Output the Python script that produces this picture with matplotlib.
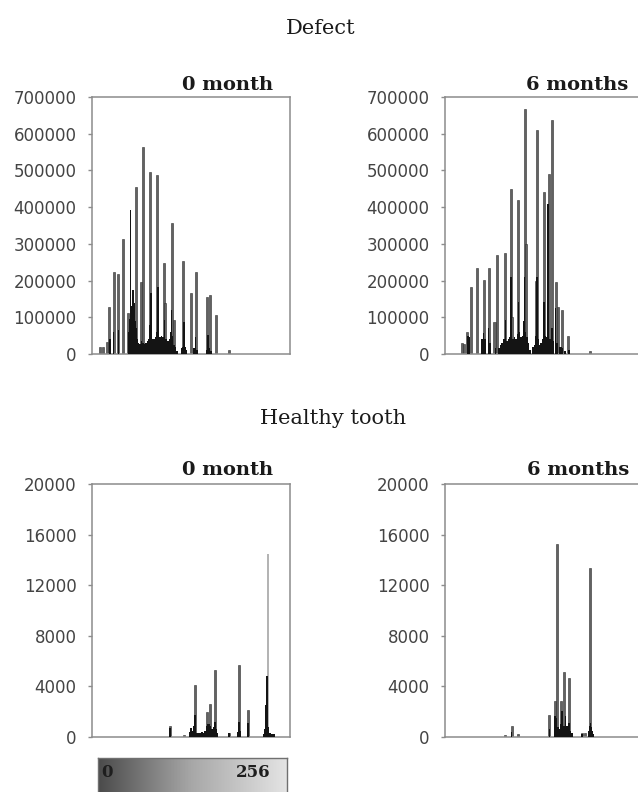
import numpy as np
import matplotlib
matplotlib.use('Agg')
import matplotlib.pyplot as plt
from matplotlib.colors import LinearSegmentedColormap

# ---------------- data (intensity bin 0..255 -> pixel count) ----------------
# Defect, 0 month
d0_gray_bins = [10, 14, 20, 22, 28, 34, 40, 47, 57, 64, 66, 75, 84, 93, 95, 103, 106, 118, 128, 134, 149, 153, 160, 177]
d0_gray_vals = [20000, 20000, 33000, 129000, 222000, 217000, 312000, 111000, 456000, 197000, 563000, 495000,
                488000, 249000, 138000, 356000, 92000, 254000, 165000, 222000, 156000, 161000, 106000, 10000]
d0_black_bins = [23, 28, 34, 47, 48, 49, 50, 51, 52, 53, 54, 55, 56, 57, 58, 59, 60, 62, 64, 66, 68, 70, 72, 74,
                 75, 76, 77, 78, 80, 82, 84, 85, 86, 88, 90, 92, 94, 96, 98, 100, 102, 103, 104, 106, 108, 110,
                 116, 118, 119, 120, 122, 132, 134, 136, 148, 150, 152, 154]
d0_black_vals = [40000, 60000, 65000, 30000, 60000, 95000, 392000, 110000, 130000, 175000, 140000, 100000, 90000,
                 70000, 40000, 35000, 30000, 28000, 35000, 30000, 28000, 30000, 35000, 40000, 80000, 166000, 70000,
                 40000, 40000, 45000, 60000, 183000, 60000, 45000, 50000, 45000, 92000, 40000, 36000, 40000, 60000,
                 120000, 50000, 25000, 18000, 8000, 15000, 20000, 88000, 20000, 10000, 15000, 45000, 12000, 12000,
                 52000, 15000, 8000]

# Defect, 6 months
d6_gray_bins = [22, 25, 28, 34, 42, 51, 57, 64, 67, 78, 85, 87, 95, 103, 105, 118, 119, 128, 134, 138, 143, 146,
                151, 159, 188]
d6_gray_vals = [29000, 27000, 60000, 183000, 235000, 202000, 235000, 86000, 271000, 276000, 449000, 101000,
                419000, 668000, 300000, 200000, 610000, 440000, 490000, 637000, 196000, 128000, 121000, 49000, 9000]
d6_black_bins = [30, 31, 48, 50, 52, 56, 58, 65, 70, 72, 74, 76, 78, 80, 82, 84, 85, 86, 88, 90, 92, 94, 95, 96,
                 98, 100, 102, 103, 104, 106, 108, 110, 114, 116, 118, 119, 120, 122, 124, 126, 128, 130, 132,
                 133, 134, 136, 138, 140, 143, 145, 148, 150, 152, 155, 160]
d6_black_vals = [50000, 47000, 40000, 56000, 40000, 70000, 30000, 15000, 15000, 25000, 30000, 40000, 92000, 35000,
                 40000, 45000, 210000, 60000, 40000, 45000, 40000, 55000, 142000, 60000, 45000, 50000, 90000,
                 210000, 60000, 45000, 30000, 10000, 20000, 25000, 49000, 210000, 40000, 25000, 30000, 40000,
                 142000, 50000, 45000, 408000, 100000, 40000, 70000, 35000, 124000, 30000, 20000, 20000, 15000,
                 8000, 10000]

# Healthy tooth, 0 month
h0_gray_bins = [101, 119, 133, 149, 152, 159, 177, 190, 202]
h0_gray_vals = [845, 130, 4150, 1980, 2590, 5280, 320, 5680, 2130]
h0_light_bins = [227]
h0_light_vals = [14480]
h0_black_bins = [101, 127, 128, 130, 132, 133, 134, 136, 138, 140, 142, 144, 146, 148, 150, 152, 153, 155, 157,
                 159, 160, 162, 177, 189, 190, 191, 201, 202, 222, 224, 225, 226, 227, 228, 230, 232, 234, 236]
h0_black_vals = [700, 400, 700, 500, 900, 1700, 800, 350, 300, 350, 400, 350, 500, 900, 1000, 1050, 900, 600,
                 800, 1190, 600, 300, 300, 400, 1190, 500, 900, 1100, 250, 600, 2500, 4810, 2510, 800, 300, 250,
                 250, 200]

# Healthy tooth, 6 months
h6_gray_bins = [78, 86, 95, 135, 142, 145, 150, 154, 160, 177, 181, 188]
h6_gray_vals = [185, 845, 200, 1717, 2830, 15245, 2830, 5125, 4680, 317, 300, 13340]
h6_black_bins = [86, 135, 142, 144, 146, 148, 150, 151, 152, 154, 156, 158, 160, 162, 164, 177, 186, 187, 188,
                 189, 190, 192]
h6_black_vals = [400, 600, 1640, 1500, 800, 600, 1000, 2030, 1200, 900, 1640, 900, 1100, 500, 300, 250, 500, 900,
                 1110, 800, 500, 250]

defect_ticks = [0, 100000, 200000, 300000, 400000, 500000, 600000, 700000]
healthy_ticks = [0, 4000, 8000, 12000, 16000, 20000]
scale_labels = ['0', '256']

# ---------------- figure ----------------
W, H = 638, 792
fig = plt.figure(figsize=(W / 100, H / 100), dpi=100)
fig.patch.set_facecolor('white')

SPINE = '#8c8c8c'


def panel(px_left, px_top, px_bottom, gray_b, gray_v, black_b, black_v, ticks,
          light_b=None, light_v=None):
    ax = fig.add_axes([px_left / W, 1 - px_bottom / H, 198 / W, (px_bottom - px_top) / H])
    ax.bar(gray_b, gray_v, width=2.6, color='#626262', edgecolor='#2e2e2e', linewidth=0.4, zorder=2)
    if light_b:
        ax.bar(light_b, light_v, width=2.6, color='#b4b4b4', linewidth=0, zorder=2)
    ax.bar(black_b, black_v, width=2.0, color='#141414', linewidth=0, zorder=3)
    ax.set_xlim(0, 256)
    ax.set_ylim(0, ticks[-1])
    ax.set_xticks([])
    ax.set_yticks(ticks)
    ax.set_yticklabels([str(t) for t in ticks], fontfamily='DejaVu Sans')
    for s in ax.spines.values():
        s.set_color(SPINE)
        s.set_linewidth(1.1)
    ax.tick_params(axis='y', direction='out', length=3, width=1, color=SPINE, pad=8,
                   labelsize=12, labelcolor='#444444')
    return ax


panel(92, 97, 354, d0_gray_bins, d0_gray_vals, d0_black_bins, d0_black_vals, defect_ticks)
panel(445, 97, 354, d6_gray_bins, d6_gray_vals, d6_black_bins, d6_black_vals, defect_ticks)
panel(92, 484, 737, h0_gray_bins, h0_gray_vals, h0_black_bins, h0_black_vals, healthy_ticks,
      h0_light_bins, h0_light_vals)
panel(445, 484, 737, h6_gray_bins, h6_gray_vals, h6_black_bins, h6_black_vals, healthy_ticks)

# titles
serif = 'DejaVu Serif'
fig.text(321 / W, 1 - 28 / H, 'Defect', ha='center', va='center', fontsize=15, family=serif, color='#1a1a1a')
fig.text(333 / W, 1 - 418 / H, 'Healthy tooth', ha='center', va='center', fontsize=15, family=serif,
         color='#1a1a1a')
for (cx, cy, t) in [(228, 85, '0 month'), (577, 85, '6 months'), (228, 470, '0 month'), (578, 470, '6 months')]:
    fig.text(cx / W, 1 - cy / H, t, ha='center', va='center', fontsize=14, family=serif,
             fontweight='bold', color='#1a1a1a')

# grey scale bar
cax = fig.add_axes([98 / W, -4 / H, 189 / W, 38 / H])
cmap = LinearSegmentedColormap.from_list('g', ['#4a4a4a', '#a8a8a8', '#e4e4e4'])
cax.imshow(np.linspace(0, 1, 256)[None, :], aspect='auto', cmap=cmap, extent=[0, 256, 0, 1])
cax.set_xticks([])
cax.set_yticks([])
for s in cax.spines.values():
    s.set_color('#707070')
    s.set_linewidth(1.0)
cax.text(12, 0.62, scale_labels[0], ha='center', va='center', fontsize=12, family=serif,
         fontweight='bold', color='#1e1e1e')
cax.text(210, 0.62, scale_labels[1], ha='center', va='center', fontsize=12, family=serif,
         fontweight='bold', color='#1e1e1e')

fig.savefig('out.png', dpi=100, facecolor='white')
